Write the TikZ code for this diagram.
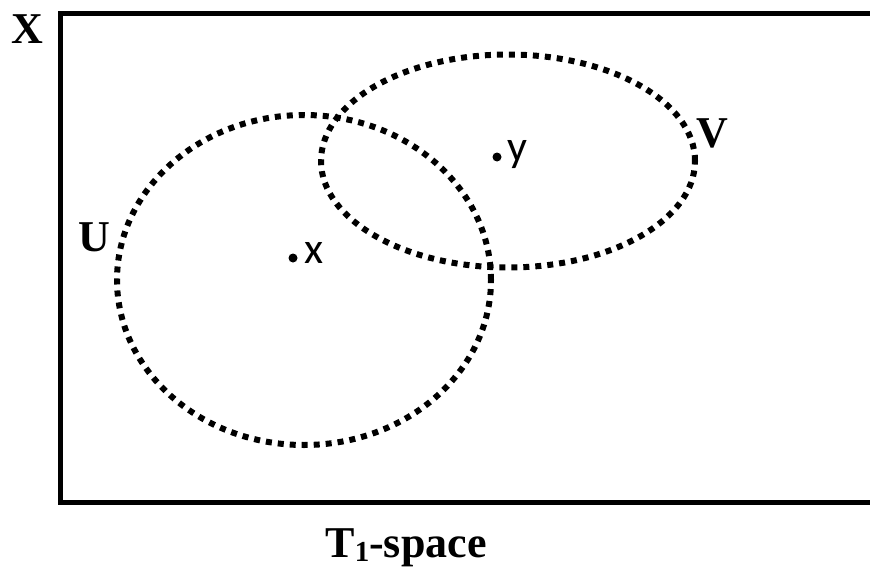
\documentclass[tikz,border=0pt]{standalone}
\usepackage{fontspec}
\setmainfont{Liberation Serif}
\newfontfamily\ptfont{Carlito}
\usetikzlibrary{shapes.geometric, positioning}

\begin{document}
\begin{tikzpicture}[
  x=1pt, y=-1pt,
  set/.style={draw, ellipse, line width=6pt, dash pattern=on 6pt off 6pt, inner sep=0pt},
  lbl/.style={font=\fontsize{44}{50}\selectfont\bfseries, inner sep=0pt},
  ptlbl/.style={font=\ptfont\fontsize{44}{50}\selectfont, inner sep=0pt, anchor=base west}
]
\useasboundingbox (0,0) rectangle (870,570);
% the space X
\draw[line width=5pt] (60,13) rectangle (876,502);
\node[lbl] (Xlbl) at (27,29) {X};
% open sets
\node[set, minimum width=374pt, minimum height=330pt] (U) at (304,280) {};
\node[set, minimum width=374pt, minimum height=213pt] (V) at (508,161) {};
\node[lbl] (Ulbl) at (94,237) {U};
\node[lbl] (Vlbl) at (712,133) {V};
% points
\coordinate (x) at (293,258);
\coordinate (y) at (497,157);
\fill (x) circle (4.5pt);
\fill (y) circle (4.5pt);
\node[ptlbl] (xlbl) at (304,263) {x};
\node[ptlbl] (ylbl) at (507,161) {y};
\node[lbl, anchor=base] (title) at (406,557)
  {T\raisebox{-4pt}{\fontsize{29}{29}\selectfont 1}-space};
\end{tikzpicture}
\end{document}
